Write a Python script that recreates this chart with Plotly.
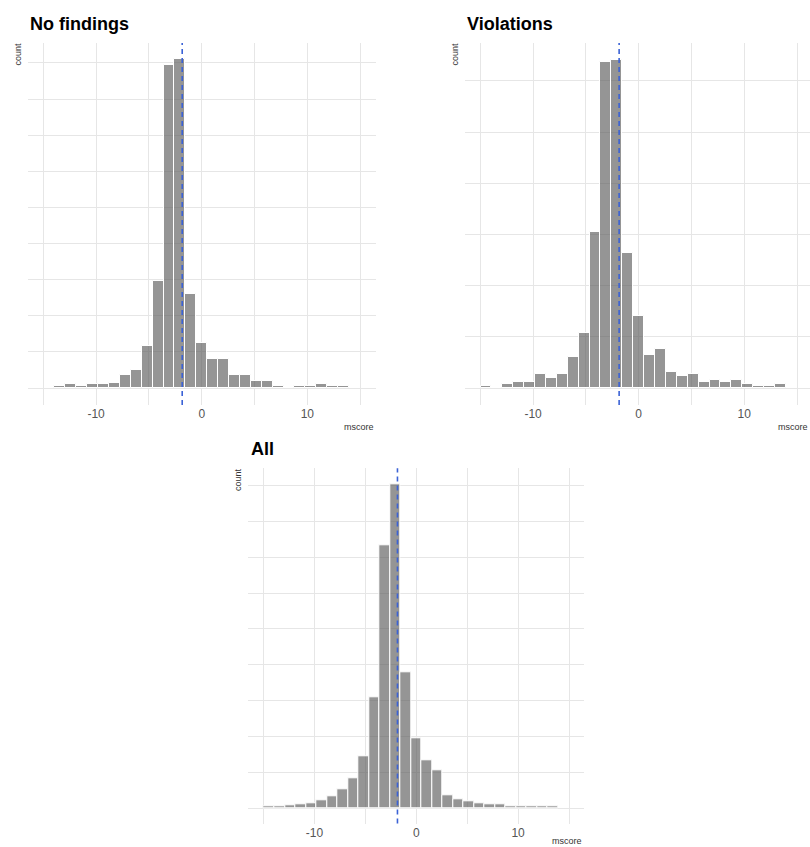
import plotly.graph_objects as go

# ---------------- data ----------------
BIN_WIDTH = 1.033
MEDIAN_LINE = -1.85

nofind_bins = list(range(-13, 14))
nofind_counts = [1, 2, 1, 2, 2, 3, 7, 10, 23, 59, 179, 182, 52, 25, 16, 16,
                 7, 7, 4, 4, 1, 0, 1, 1, 2, 1, 1]

viol_bins = list(range(-14, 14))
viol_counts = [1, 0, 2, 3, 3, 7, 5, 7, 15, 27, 76, 159, 160, 66, 35, 16, 19,
               8, 6, 7, 3, 4, 3, 4, 2, 1, 1, 2]

all_bins = list(range(-14, 14))
all_counts = [2, 3, 4, 6, 7, 11, 16, 26, 41, 73, 155, 367, 452, 189, 97, 67,
              53, 18, 13, 9, 7, 6, 5, 3, 3, 2, 2, 2]

x_tickvals = [-15, -10, -5, 0, 5, 10, 15]
x_ticktext = ["", "-10", "", "0", "", "10", ""]

titles = ["No findings", "Violations", "All"]

# ---------------- layout geometry (pixels) ----------------
W, H = 810, 847
panels = [
    dict(bins=nofind_bins, counts=nofind_counts, px=(28, 376), py=(43, 405),
         xr=[-16.45, 16.5], yr=[-9.4, 191], ystep=20, title=titles[0],
         tx=28, ty=24, mx=376, my=427),
    dict(bins=viol_bins, counts=viol_counts, px=(465, 810), py=(43, 405),
         xr=[-16.45, 16.23], yr=[-8.3, 168.5], ystep=25, title=titles[1],
         tx=465, ty=24, mx=810, my=427),
    dict(bins=all_bins, counts=all_counts, px=(248.3, 584.3), py=(468.3, 823.5),
         xr=[-16.5, 16.5], yr=[-21.4, 474], ystep=50, title=titles[2],
         tx=249, ty=449, mx=584, my=841),
]

fig = go.Figure()
layout = dict(width=W, height=H, margin=dict(l=0, r=0, t=0, b=0),
              paper_bgcolor="white", plot_bgcolor="white", showlegend=False,
              font=dict(family="Liberation Sans, Arial, sans-serif"))
annotations = []
shapes = []

for i, p in enumerate(panels, start=1):
    xa = "x" if i == 1 else f"x{i}"
    ya = "y" if i == 1 else f"y{i}"
    xkey = "xaxis" if i == 1 else f"xaxis{i}"
    ykey = "yaxis" if i == 1 else f"yaxis{i}"
    centers = [b * BIN_WIDTH for b in p["bins"]]
    fig.add_trace(go.Bar(
        x=centers, y=p["counts"], width=BIN_WIDTH,
        marker=dict(color="rgba(89,89,89,0.64)",
                    line=dict(color="white", width=1)),
        xaxis=xa, yaxis=ya, hoverinfo="x+y"))
    ymax = p["yr"][1]
    yticks = [k * p["ystep"] for k in range(0, int(ymax // p["ystep"]) + 1)]
    layout[xkey] = dict(
        domain=[p["px"][0] / W, p["px"][1] / W], range=p["xr"],
        anchor=ya, tickmode="array", tickvals=x_tickvals, ticktext=x_ticktext,
        showgrid=True, gridcolor="#e6e6e6", gridwidth=1, zeroline=False,
        showline=False, ticks="", tickfont=dict(size=12, color="#555555"),
        fixedrange=True)
    layout[ykey] = dict(
        domain=[1 - p["py"][1] / H, 1 - p["py"][0] / H], range=p["yr"],
        anchor=xa, tickmode="array", tickvals=yticks, showticklabels=False,
        showgrid=True, gridcolor="#e6e6e6", gridwidth=1, zeroline=False,
        showline=False, ticks="", fixedrange=True)
    shapes.append(dict(type="line", xref=xa, yref=f"{ya} domain",
                       x0=MEDIAN_LINE, x1=MEDIAN_LINE, y0=0, y1=1,
                       line=dict(color="#3b62d6", width=1.6, dash="5px,4px"),
                       layer="above"))
    annotations.append(dict(text=f"<b>{p['title']}</b>", xref="paper", yref="paper",
                            x=p["tx"] / W, y=1 - p["ty"] / H, xanchor="left",
                            yanchor="middle", showarrow=False,
                            font=dict(size=18, color="black")))
    annotations.append(dict(text="count", xref="paper", yref="paper",
                            x=(p["px"][0] - 10.5) / W, y=1 - (p["py"][0] + 11) / H,
                            xanchor="center", yanchor="middle", textangle=-90,
                            showarrow=False, font=dict(size=9, color="#333333")))
    annotations.append(dict(text="mscore", xref="paper", yref="paper",
                            x=p["mx"] / W, y=1 - p["my"] / H, xanchor="right",
                            yanchor="middle", showarrow=False,
                            font=dict(size=9, color="#333333")))

layout["annotations"] = annotations
layout["shapes"] = shapes
layout["bargap"] = 0
fig.update_layout(**layout)
fig.write_html(
    "out.html",
    config={"displayModeBar": False},
    post_script=("document.body.style.margin='0';"
                 "document.body.style.overflow='hidden';"
                 "document.documentElement.style.overflow='hidden';"),
)
